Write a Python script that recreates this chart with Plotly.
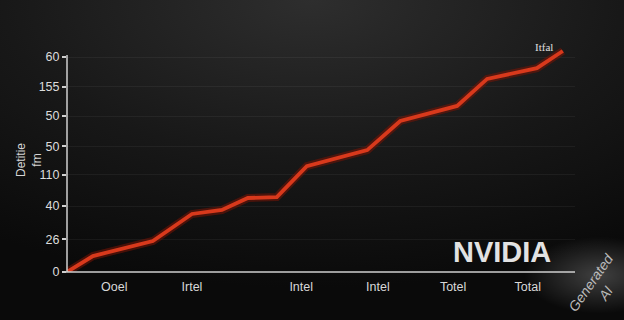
import plotly.graph_objects as go
import base64

# ---- data ----
x_vals = [0, 5.1, 16.9, 24.6, 30.5, 35.6, 41.3, 47.2, 59.1, 65.6, 76.8, 82.7, 92.5, 97.6]
y_vals = [0, 5.2, 10.1, 18.9, 20.2, 24.1, 24.4, 34.5, 39.7, 49.2, 54.1, 62.9, 66.4, 72.0]

x_tick_vals = [9.3, 24.6, 46.1, 61.2, 76.0, 90.7]
x_tick_text = ["Ooel", "Irtel", "Intel", "Intel", "Totel", "Total"]

y_tick_vals = [0, 10.7, 21.5, 31.6, 41.0, 50.8, 60.3, 70.0]
y_tick_text = ["0", "26", "40", "110", "50", "50", "155", "60"]

line_color = "#d8391c"

# plot area: x px 67..575, y px 40..272  (range top extended so line end isn't clipped)
Y_TOP = (272 - 40) / 3.07

svg = """<svg xmlns='http://www.w3.org/2000/svg' width='624' height='320'>
<defs><radialGradient id='g' cx='0.5' cy='0' r='0.9' gradientUnits='objectBoundingBox'>
<stop offset='0' stop-color='#2e2e2e'/><stop offset='0.55' stop-color='#181818'/><stop offset='1' stop-color='#0a0a0a'/>
</radialGradient>
<radialGradient id='w' cx='0.96' cy='0.86' r='0.12'>
<stop offset='0' stop-color='#ffffff' stop-opacity='0.22'/><stop offset='1' stop-color='#ffffff' stop-opacity='0'/>
</radialGradient></defs>
<rect width='624' height='320' fill='url(#g)'/>
<rect width='624' height='320' fill='url(#w)'/>
</svg>"""
src = "data:image/svg+xml;base64," + base64.b64encode(svg.encode()).decode()

PW, PH = 508, 232


def px(xp):
    return (xp - 67) / PW


def py(yp):
    return (272 - yp) / PH


fig = go.Figure()
fig.add_trace(go.Scatter(x=x_vals, y=y_vals, mode="lines",
                         line=dict(color="rgba(120,20,5,0.55)", width=8),
                         hoverinfo="skip", showlegend=False))
fig.add_trace(go.Scatter(x=x_vals, y=y_vals, mode="lines",
                         line=dict(color=line_color, width=3.8),
                         showlegend=False))

ann_common = dict(xref="paper", yref="paper", showarrow=False, xanchor="center", yanchor="middle")

fig.update_layout(
    width=624, height=320,
    margin=dict(l=67, r=49, t=40, b=48),
    paper_bgcolor="#111111",
    plot_bgcolor="rgba(0,0,0,0)",
    images=[dict(source=src, xref="paper", yref="paper", x=px(0), y=py(0),
                 sizex=624 / PW, sizey=320 / PH, xanchor="left", yanchor="top",
                 sizing="stretch", layer="below")],
    font=dict(family="Liberation Sans, Arial, sans-serif", color="#dddddd"),
    xaxis=dict(range=[0, 100], tickvals=x_tick_vals, ticktext=x_tick_text,
               showgrid=False, zeroline=False, showline=False,
               ticks="", ticklabelstandoff=5, tickfont=dict(size=12.5, color="#d8d8d8")),
    yaxis=dict(range=[0, Y_TOP], tickvals=y_tick_vals, ticktext=y_tick_text,
               showgrid=True, gridcolor="rgba(255,255,255,0.05)", zeroline=False,
               showline=False,
               ticks="outside", ticklen=4, tickcolor="#d0d0d0", tickwidth=1.5,
               tickfont=dict(size=12.5, color="#dcdcdc")),
    shapes=[
        # y axis line
        dict(type="line", xref="paper", yref="paper", x0=0, x1=0, y0=0, y1=py(55),
             line=dict(color="#d0d0d0", width=1.5)),
        # x axis line
        dict(type="line", xref="paper", yref="paper", x0=px(62), x1=px(575), y0=0, y1=0,
             line=dict(color="#cfcfcf", width=1.5)),
    ],
    annotations=[
        dict(text="Detitie<br>fm", x=px(29), y=py(160), textangle=-90,
             font=dict(size=12, color="#d5d5d5"), **ann_common),
        dict(text="Itfal", x=px(544), y=py(47),
             font=dict(size=11, color="#e0e0e0", family="Liberation Serif"), **ann_common),
        dict(text="<b>NVIDIA</b>", x=px(502), y=py(252),
             font=dict(size=29, color="#e2e2e2", family="Liberation Sans"), **ann_common),
        dict(text="<i>Generated<br>AI</i>", x=px(598), y=py(288), textangle=-55,
             font=dict(size=14, color="#bbbbbb"), **ann_common),
    ],
)

fig.write_html("out.html")
